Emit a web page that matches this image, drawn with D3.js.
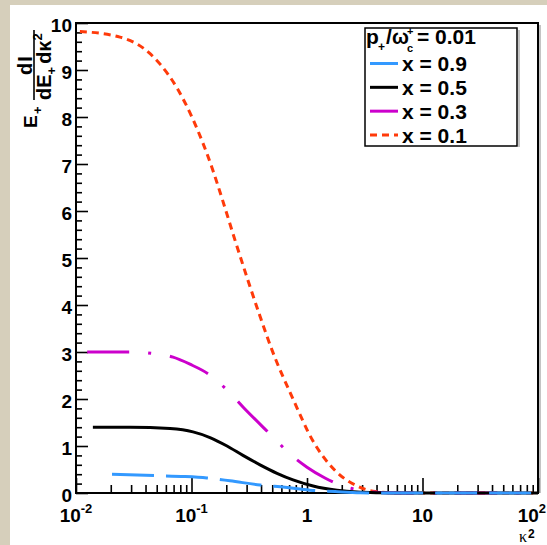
<!DOCTYPE html>
<html>
<head>
<meta charset="utf-8">
<script src="https://cdn.jsdelivr.net/npm/d3@7"></script>
<style>
  html, body { margin: 0; padding: 0; background: #d6cfbb; }
  svg { display: block; }
  text { font-family: "Liberation Sans", Arial, Helvetica, sans-serif; font-weight: bold; fill: #000; }
</style>
</head>
<body>
<svg id="chart" width="547" height="545"></svg>
<script>
// values (kappa^2, E+ dI/dE+dk^2)
const kappaX01 = [0.0108, 0.024, 0.038, 0.0537, 0.0748, 0.103, 0.151, 0.1875, 0.238, 0.303, 0.392, 0.498, 0.757, 1.13, 1.75, 2.71, 3.72, 6.4, 100];
const dIX01 = [9.82, 9.70, 9.47, 9.12, 8.62, 7.95, 6.91, 6.20, 5.38, 4.58, 3.76, 3.04, 2.00, 1.10, 0.48, 0.15, 0.04, 0, 0];

const kappaX03 = [0.0125, 0.0294, 0.0455, 0.0692, 0.097, 0.1445, 0.207, 0.279, 0.508, 0.698, 1.0, 1.43, 1.93, 2.88, 4.29, 6.4, 100];
const dIX03 = [3.0, 3.0, 2.97, 2.89, 2.74, 2.51, 2.17, 1.83, 1.19, 0.85, 0.55, 0.32, 0.17, 0.06, 0.01, 0, 0];

const kappaX05 = [0.0140, 0.0294, 0.0652, 0.103, 0.1445, 0.203, 0.279, 0.392, 0.550, 0.757, 1.13, 1.82, 2.71, 4.29, 6.4, 100];
const dIX05 = [1.40, 1.40, 1.37, 1.30, 1.18, 1.00, 0.80, 0.60, 0.42, 0.28, 0.15, 0.06, 0.02, 0.005, 0, 0];

const kappaX09 = [0.0205, 0.0483, 0.0879, 0.136, 0.215, 0.392, 0.646, 1.06, 1.75, 2.88, 5.24, 100];
const dIX09 = [0.40, 0.37, 0.35, 0.32, 0.26, 0.17, 0.12, 0.06, 0.03, 0.005, 0, 0];

const seriesLabels = ['x = 0.9', 'x = 0.5', 'x = 0.3', 'x = 0.1'];
const xTickValues = [0.01, 0.1, 1, 10, 100];
const xTickBase = ['10', '10', '1', '10', '10'];
const xTickExp = ['-2', '-1', '', '', '2'];
const yTickValues = [0, 1, 2, 3, 4, 5, 6, 7, 8, 9, 10];

const W = 547;
const H = 545;
const frame = { left: 76, right: 538, top: 23, bottom: 493 };

const svg = d3.select('#chart');

// canvas
svg.append('rect').attr('x', 10).attr('y', 5).attr('width', W - 10).attr('height', H - 5).attr('fill', '#fff');

const x = d3.scaleLog().domain([0.01, 100]).range([frame.left, frame.right]);
const y = d3.scaleLinear().domain([0, 10]).range([frame.bottom, frame.top]);

// frame + faint shadow
svg.append('line')
  .attr('x1', frame.right + 2).attr('x2', frame.right + 2)
  .attr('y1', frame.top + 2).attr('y2', frame.bottom)
  .attr('stroke', '#c4c4c4').attr('stroke-width', 2);
svg.append('rect')
  .attr('x', frame.left).attr('y', frame.top)
  .attr('width', frame.right - frame.left).attr('height', frame.bottom - frame.top)
  .attr('fill', '#fff').attr('stroke', '#000').attr('stroke-width', 2);

const styleTicks = g => {
  g.select('.domain').remove();
  g.selectAll('.tick line').attr('stroke', '#000').attr('stroke-width', 1.6);
};

// x ticks
const minorX = x.ticks().filter(v => !xTickValues.some(t => Math.abs(t - v) / t < 1e-6));
svg.append('g').attr('transform', `translate(0,${frame.bottom})`)
  .call(d3.axisBottom(x).tickValues(minorX).tickSize(-8).tickFormat(''))
  .call(styleTicks);
svg.append('g').attr('transform', `translate(0,${frame.bottom})`)
  .call(d3.axisBottom(x).tickValues(xTickValues).tickSize(-15).tickFormat(''))
  .call(styleTicks);

// y ticks
const minorY = y.ticks(50).filter(v => Math.abs(v - Math.round(v)) > 1e-6);
svg.append('g').attr('transform', `translate(${frame.left},0)`)
  .call(d3.axisLeft(y).tickValues(minorY).tickSize(-6).tickFormat(''))
  .call(styleTicks);
svg.append('g').attr('transform', `translate(${frame.left},0)`)
  .call(d3.axisLeft(y).tickValues(yTickValues).tickSize(-12).tickPadding(4).tickFormat(d3.format('d')))
  .call(styleTicks)
  .call(g => g.selectAll('.tick text')
    .attr('dy', '0.44em')
    .style('font-size', '19px')
    .style('font-family', '"Liberation Sans", Arial, sans-serif')
    .style('font-weight', 'bold'));

// x tick labels with exponents
xTickValues.forEach((v, i) => {
  const t = svg.append('text')
    .attr('x', x(v)).attr('y', 522)
    .attr('text-anchor', 'middle')
    .style('font-size', '19px');
  t.append('tspan').text(xTickBase[i]);
  if (xTickExp[i]) {
    t.append('tspan').attr('dy', -9).style('font-size', '13px').text(xTickExp[i]);
  }
  const bb = t.node().getBBox();
  if (bb.x + bb.width > W - 1) t.attr('x', x(v) - (bb.x + bb.width - (W - 1)));
});

// x title
svg.append('text').attr('x', 519).attr('y', 542)
  .style('font-family', '"Liberation Serif", "Times New Roman", serif')
  .style('font-weight', 'normal').style('font-size', '16px').text('κ');
svg.append('text').attr('x', 528).attr('y', 538).style('font-size', '12px').text('2');

// y title, rotated
const yt = svg.append('g').attr('transform', 'rotate(-90)');
yt.append('text').attr('x', -128).attr('y', 37).style('font-size', '19px').text('E');
yt.append('text').attr('x', -114).attr('y', 42).style('font-size', '13px').text('+');
yt.append('text').attr('x', -65).attr('y', 31.5).attr('text-anchor', 'middle')
  .style('font-size', '20px').style('letter-spacing', '1px').text('dI');
yt.append('line').attr('x1', -100).attr('x2', -30).attr('y1', 34).attr('y2', 34)
  .attr('stroke', '#000').attr('stroke-width', 1.6);
const den = yt.append('text').attr('x', -100).attr('y', 50.5).style('font-size', '20px');
den.append('tspan').text('dE');
den.append('tspan').attr('dy', 5).style('font-size', '13px').text('+');
den.append('tspan').attr('dy', -5).attr('dx', 3).text('dκ');
den.append('tspan').attr('dy', -9).style('font-size', '13px').text('2');

// curves
const line = d3.line()
  .x(d => x(d[0]))
  .y(d => y(d[1]))
  .curve(d3.curveMonotoneX);

const series = [
  { k: kappaX09, v: dIX09, label: seriesLabels[0], color: '#3399ff', dash: '42,12' },
  { k: kappaX05, v: dIX05, label: seriesLabels[1], color: '#000000', dash: null },
  { k: kappaX03, v: dIX03, label: seriesLabels[2], color: '#cc00cc', dash: '42,19,3,19' },
  { k: kappaX01, v: dIX01, label: seriesLabels[3], color: '#ff3a0a', dash: '7,5' }
];

// red first, blue last (on top)
series.slice().reverse().forEach(s => {
  svg.append('path')
    .datum(s.k.map((k, i) => [k, s.v[i]]))
    .attr('d', line)
    .attr('fill', 'none')
    .attr('stroke', s.color)
    .attr('stroke-width', 3)
    .attr('stroke-dasharray', s.dash);
});

// legend
const legend = svg.append('g');
legend.append('line').attr('x1', 519).attr('x2', 519).attr('y1', 30).attr('y2', 147)
  .attr('stroke', '#c4c4c4').attr('stroke-width', 2);
legend.append('rect').attr('x', 365).attr('y', 28).attr('width', 152).attr('height', 118)
  .attr('fill', '#fff').attr('stroke', '#000').attr('stroke-width', 1.5);

legend.append('text').attr('x', 366).attr('y', 44).style('font-size', '21px').text('p');
legend.append('text').attr('x', 378).attr('y', 51).style('font-size', '12px').text('+');
legend.append('text').attr('x', 386).attr('y', 44).style('font-size', '21px').text('/');
legend.append('text').attr('x', 392).attr('y', 44).style('font-size', '20px').text('ω');
legend.append('text').attr('x', 407).attr('y', 52).style('font-size', '11px').text('c');
legend.append('text').attr('x', 407).attr('y', 35).style('font-size', '11px').text('+');
legend.append('text').attr('x', 417).attr('y', 44).style('font-size', '21px')
  .attr('xml:space', 'preserve').text('= 0.01');

const rowY = d3.scalePoint().domain(seriesLabels).range([63.5, 135]);
series.forEach(s => {
  const cy = rowY(s.label);
  legend.append('line')
    .attr('x1', 370).attr('x2', 398).attr('y1', cy).attr('y2', cy)
    .attr('stroke', s.color).attr('stroke-width', 3)
    .attr('stroke-dasharray', s.dash);
  legend.append('text').attr('x', 402).attr('y', cy + 7.5)
    .style('font-size', '21px').text(s.label);
});
</script>
</body>
</html>
